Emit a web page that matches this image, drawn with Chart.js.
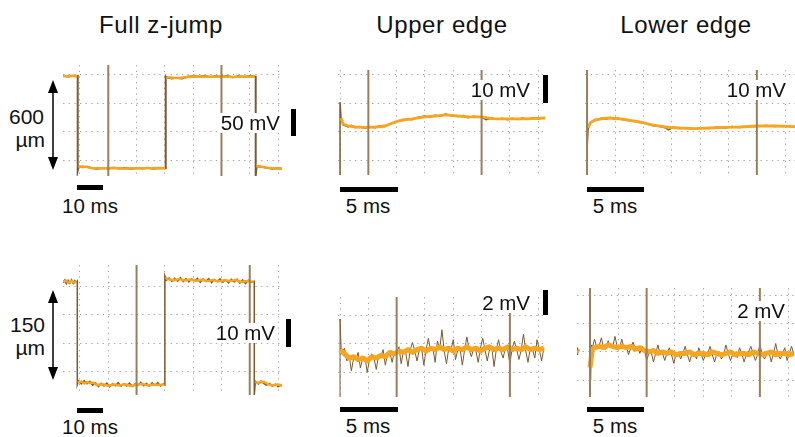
<!DOCTYPE html>
<html><head><meta charset="utf-8">
<script src="https://cdn.jsdelivr.net/npm/chart.js@4"></script>
<style>
html,body{margin:0;padding:0;background:#fff}
body{width:795px;height:437px;position:relative;overflow:hidden;font-family:"Liberation Sans",Arial,sans-serif;color:#111}
canvas{position:absolute}
.t{position:absolute;white-space:nowrap;line-height:1}
.bg{background:#fff;padding:0 2px}
.bar{position:absolute;background:#000}
svg{position:absolute;left:0;top:0}
</style></head><body>
<script>
// ---------------- DATA ----------------
// Column titles
const titles = ["Full z-jump", "Upper edge", "Lower edge"];
// Vertical distance labels (row 1, row 2)
const distLabels = [["600", "µm"], ["150", "µm"]];
// Scale bar labels
const voltLabels = ["50 mV", "10 mV", "10 mV", "10 mV", "2 mV", "2 mV"];
const timeLabels = ["10 ms", "5 ms", "5 ms", "10 ms", "5 ms", "5 ms"];

// Graticule positions (ms / mV)
const gridXFull = [0, 10, 20, 30, 40, 50, 60, 70];
const gridXEdge = [0, 2.5, 5, 7.5, 10, 12.5, 15, 17.5];
const gridY1 = [-50, 0, 50, 100];
const gridY2 = [-10, 0, 10, 20];
const gridY4 = [-10, 0, 10, 20];
const gridY5 = [-2, 0, 2];
const gridY6 = [-2, 0, 2, 4];

// Cursor (marker) times in ms
const markers1 = [10, 50];
const markers2 = [2.5, 12.5];
const markers3 = [0, 15];
const markers4 = [20, 60];
const markers5 = [5, 15];
const markers5Top = [3.32, 2.2];
const markers6 = [0, 5, 15];

// Panel 1: full z-jump 600 µm (ms, mV)
const p1Dark = [[-6,98.5],[-4.5,97.2],[-3,98.8],[-1.5,97.6],[-0.8,98.2],[-0.8,-67.7],[-0.5,-60.5],[1,-61.8],[2.5,-60.8],[4,-63.0],[6,-64.3],[8,-63.0],[10,-64.2],[12,-62.8],[14,-64.0],[16,-63.1],[18,-64.5],[20,-63.2],[22,-64.1],[24,-62.9],[26,-64.3],[28,-63.0],[30.3,-63.7],[30.3,97.5],[31,95.5],[32.5,94.0],[34,95.2],[36,93.8],[38,96.8],[40,97.9],[42,96.9],[44,98.2],[46,96.6],[48,97.8],[50,96.8],[52,98.3],[54,96.2],[56,97.8],[58,96.5],[60,98.0],[62.1,97.2],[62.1,-77.2],[62.4,-60.2],[64,-61.2],[66,-62.8],[68,-64.3],[70,-63.5],[71.4,-64.5]];
const p1Orange = [[-6,98.2],[-4,97.5],[-2.5,98.5],[-1,98],[-0.9,null],[-0.6,-61],[1,-60.5],[2.5,-61.5],[4,-63],[8,-63.5],[12,-63],[16,-64],[20,-63.5],[24,-63.7],[28,-63.2],[30.1,-63.5],[30.3,null],[30.5,96],[33,95],[35,94.5],[38,96.5],[42,97.5],[46,97],[50,97.5],[54,96.5],[58,97.5],[61.8,97],[62.1,null],[62.3,-60],[64,-60.5],[66,-62.5],[68,-63.5],[71.4,-64]];

// Panel 2: upper edge 600 µm (ms, mV)
const p2Dark = [[0,-15.1],[0,10.5],[0.09,4.6],[0.27,2.5],[0.71,1.8],[1.0,2.3],[1.33,1.5],[1.7,1.9],[2.2,1.3],[2.6,1.8],[3.1,1.5],[3.5,2.0],[3.98,1.9],[4.4,2.9],[4.86,3.2],[5.2,4.0],[5.48,3.9],[6.0,4.5],[6.36,4.3],[6.9,5.2],[7.5,5.6],[7.9,5.1],[8.4,5.9],[8.9,5.5],[9.3,6.3],[9.8,5.8],[10.4,5.4],[10.9,5.8],[11.3,5.0],[11.8,5.5],[12.5,5.1],[12.9,4.3],[13.4,4.9],[13.9,4.4],[14.3,4.8],[14.8,4.3],[15.2,4.8],[15.7,4.4],[16.1,4.9],[16.6,4.4],[17.0,5.0],[17.5,4.6],[18.1,5.1]];
const p2Orange = [[0.09,4.9],[0.27,2.8],[0.71,2.1],[1.33,1.75],[2.2,1.6],[3.1,1.75],[3.98,2.1],[4.86,3.5],[5.48,4.2],[6.36,4.6],[7.5,5.3],[8.4,5.6],[9.3,6.0],[10.4,5.6],[11.3,5.3],[12.5,5.3],[13.4,4.7],[14.3,4.6],[15.2,4.6],[16.1,4.6],[17.0,4.7],[18.1,4.9]];

// Panel 3: lower edge 600 µm (ms, mV)
const p3Dark = [[0,-6.3],[0.09,1.0],[0.27,3.0],[0.5,3.9],[0.71,4.4],[1.0,4.5],[1.33,4.9],[1.7,4.5],[2.03,5.1],[2.4,4.6],[2.74,4.9],[3.2,4.3],[3.62,4.0],[4.1,3.9],[4.68,3.3],[5.2,3.0],[5.74,2.3],[6.3,2.0],[6.89,1.5],[7.2,0.7],[7.6,1.6],[8.2,1.2],[8.8,1.5],[9.5,1.0],[10.1,1.4],[10.8,1.2],[11.5,1.7],[12.2,1.4],[12.8,1.9],[13.5,1.6],[14.2,2.0],[15.0,1.9],[15.8,2.3],[16.6,1.9],[17.4,2.2],[18.37,1.8]];
const p3Orange = [[0.09,1.4],[0.27,3.2],[0.71,4.2],[1.33,4.7],[2.03,4.9],[2.74,4.7],[3.62,4.2],[4.68,3.5],[5.74,2.5],[6.89,1.75],[8.2,1.4],[9.5,1.2],[10.8,1.4],[12.2,1.6],[13.5,1.75],[15.0,2.1],[16.6,2.1],[18.37,1.9]];

// Panel 4: full z-jump 150 µm (ms, mV)
const p4Dark = [[-6,21.3],[-5.4,22.3],[-4.8,21.0],[-4.2,22.2],[-3.6,21.2],[-3.0,22.4],[-2.4,21.1],[-1.8,22.1],[-1.2,21.4],[-0.95,21.8],[-0.95,-14.8],[-0.5,-13.4],[0.5,-14.5],[1.5,-13.3],[2.5,-14.4],[3.5,-13.6],[4.5,-14.9],[5.5,-14.1],[6.5,-15.4],[7.5,-14.3],[8.5,-15.2],[9.5,-14.2],[10.5,-15.5],[11.5,-14.5],[12.5,-15.1],[13.5,-14.0],[14.5,-15.3],[15.5,-14.4],[16.5,-15.2],[17.5,-14.2],[18.5,-15.4],[19.5,-14.5],[20.5,-15.0],[21.5,-13.9],[22.5,-15.1],[23.5,-14.3],[24.5,-15.3],[25.5,-14.1],[26.5,-15.0],[27.5,-14.0],[28.5,-15.2],[29.5,-14.4],[30.0,-14.8],[30.0,23.7],[30.5,22.2],[31.5,23.0],[32.5,21.8],[33.5,22.9],[34.5,21.9],[35.5,23.1],[36.5,21.7],[37.5,22.8],[38.5,21.6],[39.5,22.7],[40.5,21.9],[41.5,22.9],[42.5,21.5],[43.5,22.6],[44.5,21.8],[45.5,22.8],[46.5,21.4],[47.5,22.5],[48.5,21.7],[49.5,22.7],[50.5,21.5],[51.5,22.4],[52.5,21.3],[53.5,22.5],[54.5,21.6],[55.5,22.6],[56.5,21.2],[57.5,22.3],[58.5,21.0],[59.5,22.2],[60.5,21.4],[61.6,21.8],[61.6,-18.4],[62.0,-13.6],[63,-14.5],[64,-13.5],[65,-14.4],[66,-14.9],[67,-14.3],[68,-15.3],[69,-14.6],[70,-15.4],[71.4,-14.8]];
const p4Orange = [[-6,21.6],[-5,22.1],[-4,21.3],[-3,22.0],[-2,21.4],[-1.2,21.8],[-1.0,null],[-0.8,-14.0],[0.5,-13.6],[1.5,-14.3],[2.5,-13.8],[3.5,-14.2],[4.6,-14.0],[6,-14.9],[8,-14.6],[10,-15.1],[12,-14.7],[14,-15.0],[16,-14.6],[18,-15.2],[20,-14.8],[22,-14.5],[24,-15.0],[26,-14.7],[28,-14.9],[29.8,-14.6],[30.0,null],[30.2,23.2],[31,22.6],[33,22.2],[35,22.6],[37,22.1],[39,22.5],[41,22.0],[43,22.4],[45,21.9],[47,22.3],[49,21.8],[51,22.2],[53,21.9],[55,22.3],[57,21.6],[59,21.9],[61.4,21.7],[61.6,null],[61.9,-13.8],[63,-14.1],[65,-13.7],[66.5,-14.6],[68,-15.0],[70,-14.7],[71.4,-15.1]];

// Panel 5: upper edge 150 µm (mV); noisy samples every 0.2 ms from 0.2 ms, band every 0.4 ms from 0
const p5DarkStart = [[0,-3.75],[0,1.77],[0.1,-0.4]];
const p5Dark = [-0.5,-0.3,-1.2,-0.8,-1.9,-1.0,-1.1,-0.6,-1.7,-1.0,-0.9,-2.0,-1.1,-0.7,-1.0,-1.8,-0.8,-0.9,-0.4,-1.5,-0.7,-0.6,-1.3,-0.5,-0.7,-0.2,-1.4,-0.5,-0.6,-1.6,-0.4,0.1,-0.5,-1.2,-0.4,-0.3,-1.5,-0.4,0.4,-0.5,-0.3,-1.3,0.2,-0.4,1.0,-0.5,-1.4,-0.3,-0.4,0.3,-1.1,-0.4,-0.3,-1.5,-0.4,0.5,-0.4,-0.9,-0.3,-0.5,-1.3,-0.3,0.4,-0.4,-1.2,-0.4,-0.2,-1.6,-0.4,0.3,-0.5,-1.0,-0.3,-0.4,-1.4,-0.3,0.2,-0.4,-1.1,-0.4,0.7,-0.5,-1.3,-0.3,-0.4,-1.0,0.3,-0.4,-1.2,-0.3];
const p5Orange = [-0.4,-0.7,-1.0,-0.9,-1.1,-1.0,-1.2,-0.9,-1.0,-0.8,-0.9,-0.6,-0.7,-0.5,-0.6,-0.4,-0.6,-0.4,-0.3,-0.5,-0.3,-0.4,-0.2,-0.4,-0.3,-0.5,-0.3,-0.4,-0.2,-0.4,-0.3,-0.5,-0.3,-0.2,-0.4,-0.3,-0.4,-0.2,-0.4,-0.3,-0.4,-0.2,-0.4,-0.3,-0.4,-0.3];

// Panel 6: lower edge 150 µm (mV)
const p6DarkStart = [[-1.15,0.3],[-1.1,-0.2],[-1.05,0.1],[-0.5,null],[0,0.2],[0.05,-2.0],[0.12,0.5]];
const p6Dark = [0.3,0.9,0.3,0.4,1.0,0.3,0.2,0.8,0.4,0.3,1.1,0.4,0.2,0.9,0.3,0.4,-0.2,0.3,0.7,0.2,0.3,-0.1,0.4,0.2,-0.6,-0.1,0.0,-0.7,-0.1,0.5,-0.2,-0.1,-0.6,-0.1,0.3,-0.2,-0.8,-0.1,0.0,-0.5,-0.1,0.4,-0.2,-0.7,-0.1,0.0,-0.5,0.3,-0.1,-0.6,-0.2,-0.1,0.4,-0.2,-0.7,-0.1,0.0,-0.5,-0.2,0.5,-0.1,-0.6,-0.2,0.0,-0.4,0.3,-0.1,-0.7,-0.2,0.0,0.4,-0.1,-0.6,-0.2,0.5,-0.1,-0.5,-0.2,0.0,-0.7,-0.1,0.6,-0.2,-0.5,-0.1,0.3,-0.6,-0.1,0.4,-0.2];
const p6OrangeStart = [[-1.15,0.1],[-1.0,0.0],[-0.5,null],[0,-1.1],[0.2,0.2]];
const p6Orange = [0.3,0.4,0.3,0.5,0.4,0.3,0.4,0.3,0.4,0.2,0.3,0.1,0.0,0.1,-0.1,0.0,-0.1,0.0,-0.2,-0.1,-0.1,0.0,-0.2,-0.1,-0.1,-0.2,0.0,-0.1,-0.2,-0.1,0.0,-0.2,-0.1,-0.1,-0.2,0.0,-0.1,-0.2,-0.1,0.0,-0.2,-0.1,-0.1,-0.2,-0.1];
const DARK_STEP = 0.2, ORANGE_STEP = 0.4;

// ---------------- STYLE / LAYOUT ----------------
const ORANGE = '#f7a51f', DARK = '#7a5a2e', MARK = '#9a7f5a', GRID = '#a9a9a9';

function pts(a){ return a.map(p => ({x:p[0], y:p[1]})); }
function sampled(vals, start, step){ return vals.map((v,i) => ({x: start + i*step, y: v})); }

const panels = [
  {left:63, top:65, w:219, h:111, x:[-6.0,71.4], y:[-77.2,117.5], gx:gridXFull, gy:gridY1,
   dark:pts(p1Dark), orange:pts(p1Orange), mk:markers1, mkTop:null, dw:2, ow:2.5},
  {left:338, top:70, w:207, h:105, x:[-0.18,18.1], y:[-15.1,21.75], gx:gridXEdge, gy:gridY2,
   dark:pts(p2Dark), orange:pts(p2Orange), mk:markers2, mkTop:null, dw:1.5, ow:2.8},
  {left:585, top:70, w:210, h:105, x:[-0.18,18.37], y:[-15.1,21.75], gx:gridXEdge, gy:gridY2,
   dark:pts(p3Dark), orange:pts(p3Orange), mk:markers3, mkTop:null, dw:1.5, ow:2.8},
  {left:63, top:265, w:219, h:130, x:[-6.0,71.4], y:[-18.4,27.6], gx:gridXFull, gy:gridY4,
   dark:pts(p4Dark), orange:pts(p4Orange), mk:markers4, mkTop:null, dw:1.5, ow:2.5},
  {left:338, top:297, w:207, h:100, x:[-0.18,18.1], y:[-3.75,3.32], gx:gridXEdge, gy:gridY5,
   dark:pts(p5DarkStart).concat(sampled(p5Dark, DARK_STEP, DARK_STEP)),
   orange:sampled(p5Orange, 0, ORANGE_STEP), mk:markers5, mkTop:markers5Top, dw:1, ow:5},
  {left:577, top:288, w:218, h:109, x:[-1.15,18.1], y:[-3.18,4.52], gx:gridXEdge, gy:gridY6,
   dark:pts(p6DarkStart).concat(sampled(p6Dark, DARK_STEP, DARK_STEP)),
   orange:pts(p6OrangeStart).concat(sampled(p6Orange, ORANGE_STEP, ORANGE_STEP)), mk:markers6, mkTop:null, dw:1, ow:5}
];

panels.forEach(p => {
  const c = document.createElement('canvas');
  c.width = p.w; c.height = p.h;
  c.style.left = p.left + 'px'; c.style.top = p.top + 'px';
  c.style.width = p.w + 'px'; c.style.height = p.h + 'px';
  document.body.appendChild(c);
  const ds = [];
  p.mk.forEach((m, i) => ds.push({
    data: [{x:m, y:p.y[0]}, {x:m, y: p.mkTop ? p.mkTop[i] : p.y[1]}],
    borderColor: MARK, borderWidth: 2, pointRadius: 0, order: 0, clip: 2
  }));
  ds.push({data: p.orange, borderColor: ORANGE, borderWidth: p.ow, pointRadius: 0, spanGaps: false, order: 1, clip: 3, borderJoinStyle:'round'});
  ds.push({data: p.dark, borderColor: DARK, borderWidth: p.dw, pointRadius: 0, spanGaps: false, order: 2, clip: 3});
  const axis = (range, grid) => ({
    type: 'linear', min: range[0], max: range[1],
    afterBuildTicks: s => { s.ticks = grid.map(v => ({value: v})); },
    ticks: {display: false},
    grid: {color: GRID, lineWidth: 1, drawTicks: false},
    border: {display: false, dash: [1.4, 4.26]}
  });
  new Chart(c, {
    type: 'line',
    data: {datasets: ds},
    options: {
      responsive: false, animation: false, events: [],
      layout: {padding: 0},
      elements: {line: {tension: 0}},
      plugins: {legend: {display: false}, tooltip: {enabled: false}},
      scales: {x: axis(p.x, p.gx), y: axis(p.y, p.gy)}
    }
  });
});

// ---------------- TEXT & SCALE BARS ----------------
function text(s, x, baseline, size, align, cls){
  const d = document.createElement('div');
  d.className = 't' + (cls ? ' ' + cls : '');
  d.textContent = s;
  d.style.fontSize = size + 'px';
  d.style.top = (baseline - 0.85 * size) + 'px';
  if (align === 'right') { d.style.right = (795 - x) + 'px'; }
  else if (align === 'center') { d.style.left = x + 'px'; d.style.transform = 'translateX(-50%)'; }
  else d.style.left = x + 'px';
  document.body.appendChild(d);
  return d;
}
function bar(x, y, w, h){
  const d = document.createElement('div');
  d.className = 'bar';
  Object.assign(d.style, {left:x+'px', top:y+'px', width:w+'px', height:h+'px'});
  document.body.appendChild(d);
}
const titleX = [161, 442, 686];
titles.forEach((t, i) => { const d = text(t, titleX[i], 33, 24, 'center'); d.style.letterSpacing = '0.6px'; });
text(distLabels[0][0], 44, 124, 21, 'right');
text(distLabels[0][1], 45, 147, 21, 'right');
text(distLabels[1][0], 45, 332, 21, 'right');
text(distLabels[1][1], 45, 355, 21, 'right');

const voltPos = [[282,130],[532,97],[788,97],[277,340],[532,310],[787,318]];
voltLabels.forEach((s, i) => text(s, voltPos[i][0], voltPos[i][1], 20.5, 'right', 'bg'));
const timePos = [[90,213],[368,213],[615,213],[90,434],[368,433],[615,433]];
timeLabels.forEach((s, i) => text(s, timePos[i][0], timePos[i][1], 20.5, 'center'));

bar(291,109,5,27); bar(286,319,5,28); bar(543,75,5,28); bar(543,290,5,25);
bar(77,185,26,5); bar(77,408,26,5); bar(340,187,58,5); bar(587,187,57,5); bar(340,407,58,5); bar(587,407,57,5);

// double-headed arrows
const svgNS = 'http://www.w3.org/2000/svg';
const svg = document.createElementNS(svgNS, 'svg');
svg.setAttribute('width', 795); svg.setAttribute('height', 437);
[[53,80,170],[53,290,380]].forEach(a => {
  const [x, y1, y2] = a;
  const l = document.createElementNS(svgNS, 'line');
  l.setAttribute('x1', x); l.setAttribute('x2', x); l.setAttribute('y1', y1 + 10); l.setAttribute('y2', y2 - 10);
  l.setAttribute('stroke', '#000'); l.setAttribute('stroke-width', 1.5);
  svg.appendChild(l);
  [[y1, 1], [y2, -1]].forEach(h => {
    const p = document.createElementNS(svgNS, 'polygon');
    p.setAttribute('points', `${x},${h[0]} ${x-5},${h[0]+13*h[1]} ${x+5},${h[0]+13*h[1]}`);
    p.setAttribute('fill', '#000');
    svg.appendChild(p);
  });
});
document.body.appendChild(svg);
</script>
</body></html>
